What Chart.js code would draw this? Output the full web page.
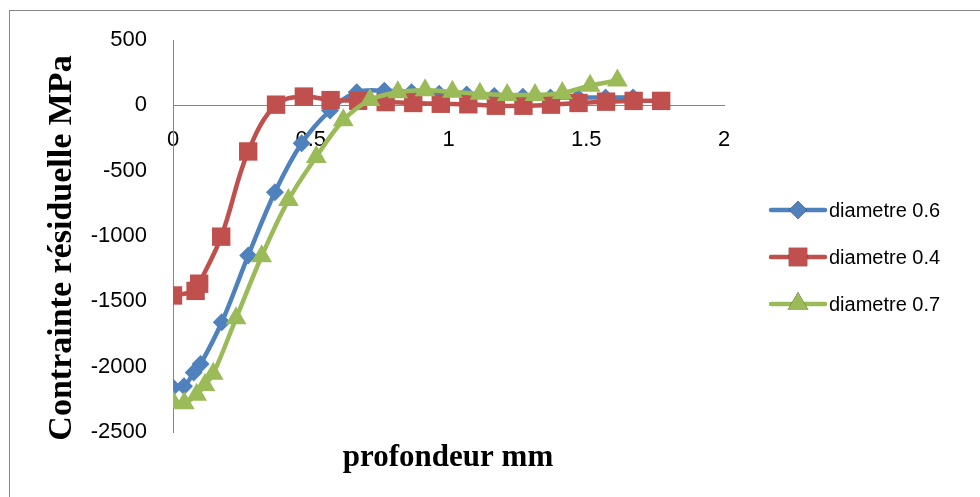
<!DOCTYPE html>
<html>
<head>
<meta charset="utf-8">
<title>Contrainte résiduelle</title>
<script src="https://cdn.jsdelivr.net/npm/chart.js@4/dist/chart.umd.min.js"></script>
<style>
  html, body { margin: 0; padding: 0; background: #fff; overflow: hidden; }
  #wrap { position: relative; width: 980px; height: 497px; }
  #frame { position: absolute; left: 9px; top: 10px; width: 1100px; height: 700px;
           border: 1px solid #868686; box-sizing: border-box; pointer-events: none; }
  canvas { position: absolute; left: 0; top: 0; }
</style>
</head>
<body>
<div id="wrap">
  <canvas id="c" width="980" height="497"></canvas>
  <div id="frame"></div>
</div>
<script>
// Depth (mm) and residual stress (MPa) for each wire diameter
const seriesNames = ['diametre 0.6', 'diametre 0.4', 'diametre 0.7'];

const depth06 = [0, 0.04, 0.075, 0.1, 0.177, 0.273, 0.37, 0.467, 0.57, 0.667,
                 0.767, 0.866, 0.966, 1.066, 1.166, 1.27, 1.37, 1.47, 1.57, 1.67];
const stress06 = [-2160, -2150, -2045, -1980, -1660, -1150, -665, -290, -40, 100,
                  112, 100, 88, 82, 72, 65, 60, 60, 60, 60];

const depth04 = [0, 0.082, 0.095, 0.175, 0.273, 0.374, 0.475, 0.572, 0.672, 0.772,
                 0.872, 0.972, 1.072, 1.172, 1.272, 1.372, 1.472, 1.572, 1.672, 1.772];
const stress04 = [-1455, -1420, -1365, -1005, -353, 5, 67, 40, 35, 25,
                  18, 12, 8, -3, -3, 5, 18, 28, 34, 34];

const depth07 = [0, 0.041, 0.086, 0.116, 0.146, 0.229, 0.322, 0.419, 0.52, 0.618,
                 0.715, 0.816, 0.915, 1.014, 1.114, 1.213, 1.314, 1.413, 1.514, 1.613];
const stress07 = [-2270, -2280, -2215, -2140, -2055, -1630, -1155, -725, -395, -115,
                  40, 100, 115, 103, 88, 80, 80, 95, 150, 190];

const xTickValues = [0, 0.5, 1, 1.5, 2];
const xTickLabels = ['0', '0.5', '1', '1.5', '2'];
const yTickValues = [-2500, -2000, -1500, -1000, -500, 0, 500];
const yTickLabels = ['-2500', '-2000', '-1500', '-1000', '-500', '0', '500'];

const xTitle = 'profondeur mm';
const yTitle = 'Contrainte résiduelle MPa';

const toPoints = (xs, ys) => xs.map((x, i) => ({ x: x, y: ys[i] }));

const colors = ['#4F81BD', '#C0504D', '#9BBB59'];
const styles = [
  { pointStyle: 'rectRot', radius: 9 },
  { pointStyle: 'rect', radius: 13 },
  { pointStyle: 'triangle', radius: 12 }
];
const datasetsData = [toPoints(depth06, stress06), toPoints(depth04, stress04), toPoints(depth07, stress07)];

const datasets = datasetsData.map((d, i) => ({
  label: seriesNames[i],
  data: d,
  showLine: true,
  borderColor: colors[i],
  backgroundColor: colors[i],
  borderWidth: 4.5,
  tension: 0.38,
  pointStyle: styles[i].pointStyle,
  pointRadius: styles[i].radius,
  pointHoverRadius: styles[i].radius,
  pointBorderWidth: 0,
  pointBackgroundColor: colors[i],
  order: 2 - i
}));

// Titles and a legend that shows each series' line with its marker
const decorations = {
  id: 'decorations',
  afterDraw(chart) {
    const ctx = chart.ctx;
    ctx.save();
    ctx.fillStyle = '#000';
    ctx.font = 'bold 31px "Liberation Serif", "Times New Roman", serif';
    ctx.textAlign = 'center';
    ctx.textBaseline = 'middle';
    ctx.fillText(xTitle, 448, 458);
    ctx.translate(62, 248);
    ctx.rotate(-Math.PI / 2);
    ctx.font = 'bold 34px "Liberation Serif", "Times New Roman", serif';
    ctx.fillText(yTitle, 0, 0);
    ctx.restore();

    const rows = [210, 257, 304];
    chart.data.datasets.forEach((ds, i) => {
      const y = rows[i];
      ctx.save();
      ctx.strokeStyle = ds.borderColor;
      ctx.lineWidth = ds.borderWidth;
      ctx.lineCap = 'round';
      ctx.beginPath();
      ctx.moveTo(771, y);
      ctx.lineTo(825, y);
      ctx.stroke();
      Chart.helpers.drawPoint(ctx, {
        pointStyle: ds.pointStyle,
        radius: ds.pointRadius,
        rotation: 0,
        borderWidth: 0
      }, 798, y);
      ctx.fillStyle = ds.backgroundColor;
      ctx.fill();
      ctx.fillStyle = '#000';
      ctx.font = '20px "Liberation Sans", Arial, sans-serif';
      ctx.textAlign = 'left';
      ctx.textBaseline = 'middle';
      ctx.fillText(ds.label, 829, y + 1);
      ctx.restore();
    });
  }
};

const tickFont = { family: '"Liberation Sans", Arial, sans-serif', size: 22 };

new Chart(document.getElementById('c'), {
  type: 'scatter',
  data: { datasets: datasets },
  options: {
    responsive: false,
    animation: false,
    events: [],
    layout: { padding: { left: 0, top: 40, right: 256, bottom: 65 } },
    plugins: { legend: { display: false }, tooltip: { enabled: false } },
    scales: {
      x: {
        type: 'linear',
        min: 0, max: 2,
        position: { y: 0 },
        grid: { display: false, drawTicks: false },
        border: { display: true, color: '#868686', width: 1 },
        afterBuildTicks(scale) { scale.ticks = xTickValues.map(v => ({ value: v })); },
        ticks: {
          color: '#000',
          font: tickFont,
          padding: 21,
          maxRotation: 0,
          callback: (v) => xTickLabels[xTickValues.indexOf(v)]
        }
      },
      y: {
        type: 'linear',
        min: -2500, max: 500,
        position: 'left',
        grid: { display: false, drawTicks: false },
        border: { display: true, color: '#868686', width: 1 },
        afterFit(scale) { scale.width = 173; },
        afterBuildTicks(scale) { scale.ticks = yTickValues.map(v => ({ value: v })); },
        ticks: {
          color: '#000',
          font: tickFont,
          padding: 26,
          callback: (v) => yTickLabels[yTickValues.indexOf(v)]
        }
      }
    }
  },
  plugins: [decorations]
});
</script>
</body>
</html>
